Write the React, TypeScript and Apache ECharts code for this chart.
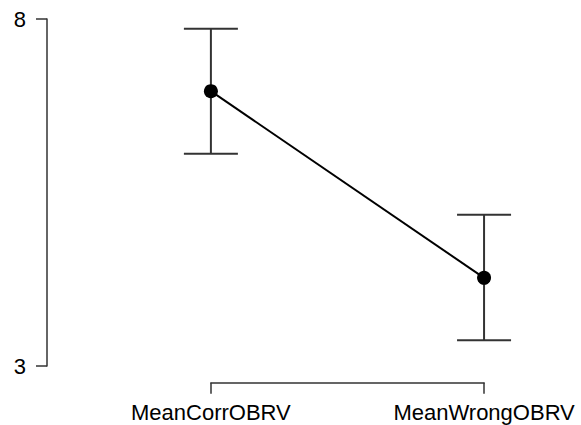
import React, { useEffect, useRef } from "react";
import * as echarts from "echarts";

const categories = ["MeanCorrOBRV", "MeanWrongOBRV"];
const means = [6.96, 4.27];
const upper = [7.86, 5.18];
const lower = [6.06, 3.37];
const yMin = 3;
const yMax = 8;

const FONT = "Arial, 'Liberation Sans', sans-serif";

export default function App() {
  const ref = useRef<HTMLDivElement>(null);
  useEffect(() => {
    if (!ref.current) return;
    const chart = echarts.init(ref.current, null, { renderer: "svg" });
    const pts = means.map((m, i) => [i + 1, m]);
    const errData = categories.map((_, i) => [i + 1, lower[i], upper[i]]);
    chart.setOption({
      animation: false,
      backgroundColor: "#ffffff",
      grid: [
        { left: 47, width: 519, top: 19, height: 347 },
        { left: 210.9, width: 273.2, top: 300, height: 82.7 },
      ],
      xAxis: [
        {
          gridIndex: 0,
          type: "value",
          min: 0.4,
          max: 2.3,
          show: false,
        },
        {
          gridIndex: 1,
          type: "value",
          min: 1,
          max: 2,
          interval: 1,
          axisLine: { show: true, lineStyle: { color: "#333", width: 1.5 } },
          axisTick: { show: true, length: 11, lineStyle: { color: "#333", width: 1.5 } },
          axisLabel: {
            show: true,
            showMinLabel: true,
            showMaxLabel: true,
            margin: 19,
            fontSize: 22,
            fontFamily: FONT,
            color: "#000",
            formatter: (v: number) => categories[Math.round(v) - 1] ?? "",
          },
          splitLine: { show: false },
        },
      ],
      yAxis: [
        {
          gridIndex: 0,
          type: "value",
          min: yMin,
          max: yMax,
          interval: yMax - yMin,
          axisLine: { show: true, lineStyle: { color: "#333", width: 1.5 } },
          axisTick: { show: true, length: 11, lineStyle: { color: "#333", width: 1.5 } },
          axisLabel: {
            show: true,
            margin: 21,
            fontSize: 22,
            fontFamily: FONT,
            color: "#000",
          },
          splitLine: { show: false },
        },
        { gridIndex: 1, type: "value", show: false },
      ],
      series: [
        {
          type: "custom",
          xAxisIndex: 0,
          yAxisIndex: 0,
          data: errData,
          renderItem: (params: any, api: any) => {
            const x = api.value(0);
            const lo = api.coord([x, api.value(1)]);
            const hi = api.coord([x, api.value(2)]);
            const hw = 27;
            const style = { stroke: "#333", lineWidth: 2 };
            return {
              type: "group",
              children: [
                { type: "line", shape: { x1: lo[0], y1: lo[1], x2: hi[0], y2: hi[1] }, style },
                { type: "line", shape: { x1: hi[0] - hw, y1: hi[1], x2: hi[0] + hw, y2: hi[1] }, style },
                { type: "line", shape: { x1: lo[0] - hw, y1: lo[1], x2: lo[0] + hw, y2: lo[1] }, style },
              ],
            };
          },
          z: 1,
        },
        {
          type: "line",
          xAxisIndex: 0,
          yAxisIndex: 0,
          data: pts,
          symbol: "circle",
          symbolSize: 14,
          itemStyle: { color: "#000" },
          lineStyle: { color: "#000", width: 2 },
          z: 2,
        },
      ],
    });
    return () => chart.dispose();
  }, []);
  return (
    <div
      ref={ref}
      style={{ position: "fixed", left: 0, top: 0, width: 581, height: 425 }}
    />
  );
}
